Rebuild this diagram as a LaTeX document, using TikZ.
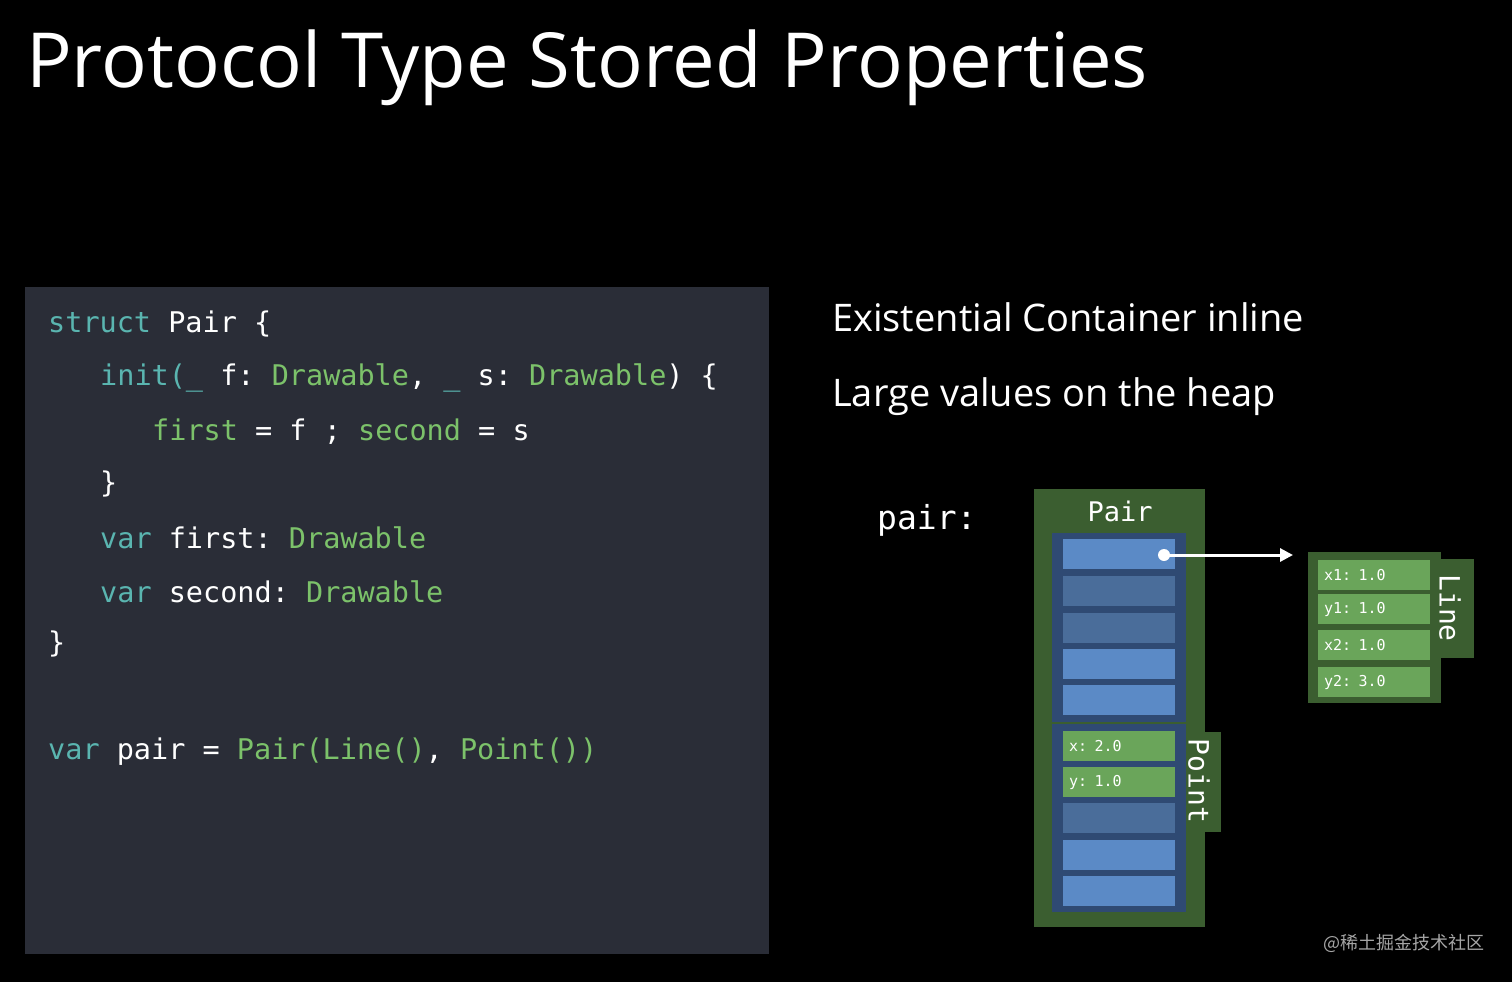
\documentclass[tikz,border=0pt]{standalone}
\usepackage{fontspec}
\setmainfont{Open Sans}
\setmonofont{DejaVu Sans Mono}
\newfontfamily\cjkfont{Noto Sans CJK SC}
\usetikzlibrary{arrows.meta}
\definecolor{panelbg}{HTML}{2A2D37}
\definecolor{kwteal}{HTML}{5AB5B0}
\definecolor{tygreen}{HTML}{7CC26A}
\definecolor{pairgreen}{HTML}{3B5E30}
\definecolor{cellgreen}{HTML}{6AA55A}
\definecolor{boxblue}{HTML}{2F4A73}
\definecolor{cellblue}{HTML}{5B8AC6}
\definecolor{dimblue}{HTML}{4A6D9A}
\newcommand{\kw}[1]{\textcolor{kwteal}{#1}}
\newcommand{\ty}[1]{\textcolor{tygreen}{#1}}
\tikzset{
  codeline/.style={anchor=west, text=white, font=\fontsize{28.5}{28.5}\selectfont\ttfamily, inner sep=0pt},
  slot/.style={fill=cellblue, draw=none, minimum width=112pt, minimum height=30pt, inner sep=0pt},
  slotdim/.style={slot, fill=dimblue},
  field/.style={fill=cellgreen, draw=none, minimum height=30pt, inner sep=0pt, text=white,
    font=\fontsize{15}{15}\selectfont\ttfamily, align=left, text width=#1, inner xsep=6pt},
  tablabel/.style={text=white, font=\fontsize{28}{28}\selectfont\ttfamily, rotate=-90, inner sep=0pt}
}
\begin{document}
\begin{tikzpicture}[x=1pt, y=-1pt]
  % background, image from (0,0) to (1512,982)
  \fill[black] (0,0) rectangle (1512,982);
  \useasboundingbox (0,0) rectangle (1512,982);

  % Title
  \node[anchor=base west, text=white, font=\fontsize{76}{76}\selectfont, inner sep=0pt] (title) at (26,88) {Protocol Type Stored Properties};

  % Code panel
  \fill[panelbg] (25,287) rectangle (769,954);
  \node[codeline] (c1) at (48,324) {\kw{struct} Pair \{};
  \node[codeline] (c2) at (100,378) {\kw{init(\_} f: \ty{Drawable}, \kw{\_} s: \ty{Drawable}) \{};
  \node[codeline] (c3) at (152,432) {\ty{first} = f ; \ty{second} = s};
  \node[codeline] (c4) at (100,484) {\}};
  \node[codeline] (c5) at (100,538) {\kw{var} first: \ty{Drawable}};
  \node[codeline] (c6) at (100,592) {\kw{var} second: \ty{Drawable}};
  \node[codeline] (c7) at (48,644) {\}};
  \node[codeline] (c8) at (48,752) {\kw{var} pair = \ty{Pair(Line()}, \ty{Point())}};

  % Bullets
  \node[anchor=base west, text=white, font=\fontsize{38}{38}\selectfont, inner sep=0pt] (b1) at (832,331) {Existential Container inline};
  \node[anchor=base west, text=white, font=\fontsize{38}{38}\selectfont, inner sep=0pt] (b2) at (832,406) {Large values on the heap};

  % Pair container
  \node[anchor=west, text=white, font=\fontsize{33}{33}\selectfont\ttfamily, inner sep=0pt] (pairvar) at (877,520) {pair:};
  \fill[pairgreen] (1034,489) rectangle (1205,927);
  \node[text=white, font=\fontsize{27}{27}\selectfont\ttfamily] (pairlbl) at (1120,511) {Pair};
  \fill[boxblue] (1052,533) rectangle (1186,722);
  \fill[boxblue] (1052,724) rectangle (1186,912);
  \fill[pairgreen] (1186,732) rectangle (1221,832);
  \node[tablabel] (pointlbl) at (1199,781) {Point};
  \node[slot]    (s1) at (1119,554) {};
  \node[slotdim] (s2) at (1119,591) {};
  \node[slotdim] (s3) at (1119,628) {};
  \node[slot]    (s4) at (1119,664) {};
  \node[slot]    (s5) at (1119,700) {};
  \node[field=100pt] (s6) at (1119,746) {x: 2.0};
  \node[field=100pt] (s7) at (1119,782) {y: 1.0};
  \node[slotdim] (s8) at (1119,818) {};
  \node[slot]    (s9) at (1119,855) {};
  \node[slot]    (s10) at (1119,891) {};

  % Line box on the heap
  \fill[pairgreen] (1308,552) rectangle (1441,703);
  \fill[pairgreen] (1441,559) rectangle (1474,658);
  \node[tablabel] (linelbl) at (1450,608) {Line};
  \node[field=100pt] (l1) at (1374,575) {x1: 1.0};
  \node[field=100pt] (l2) at (1374,609) {y1: 1.0};
  \node[field=100pt] (l3) at (1374,645) {x2: 1.0};
  \node[field=100pt] (l4) at (1374,682) {y2: 3.0};

  % Pointer
  \coordinate (ptr) at (1164,555);
  \coordinate (heap) at (1293,555);
  \fill[white] (ptr) circle (6);
  \draw[white, line width=3pt, -{Triangle[length=13pt, width=13pt]}] (ptr) -- (heap);

  % watermark
  \node[anchor=west, text=gray!70, font=\fontsize{18}{18}\selectfont\cjkfont, inner sep=0pt] (wm) at (1323,943) {@稀土掘金技术社区};
\end{tikzpicture}
\end{document}
